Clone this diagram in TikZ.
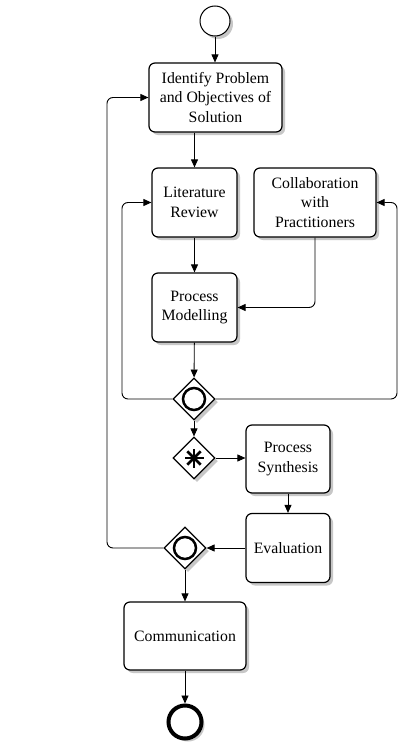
\documentclass[tikz,border=0pt]{standalone}
\usepackage{fontspec}
\setmainfont{Liberation Serif}
\usetikzlibrary{arrows.meta,shapes.geometric,shadows}
\begin{document}
\begin{tikzpicture}[x=1pt,y=-1pt,
 boxshadow/.style={drop shadow={shadow xshift=3pt,shadow yshift=-3pt,fill=black!22,opacity=1}},
 task/.style={draw, line width=1.2pt, rounded corners=6pt, fill=white, align=center,
   font=\fontsize{15.8}{19.5}\selectfont, inner sep=0pt, boxshadow},
 gate/.style={draw, diamond, aspect=1, minimum width=42pt, minimum height=42pt,
   inner sep=0pt, line width=1.2pt, fill=white, boxshadow},
 flow/.style={-{Triangle[length=8pt,width=7pt]}, line width=0.9pt, rounded corners=6pt},
 gmark/.style={line width=2.5pt}
]
\useasboundingbox[fill=white] (0,0) rectangle (399,744);

\node[circle, draw, line width=1pt, minimum size=30pt, inner sep=0pt, fill=white, boxshadow] (start) at (215,21) {};
\node[task, minimum width=133pt, minimum height=69pt] (ident) at (215.5,97.5) {Identify Problem\\and Objectives of\\Solution};
\node[task, minimum width=85pt, minimum height=69pt] (lit) at (194.5,202.5) {Literature\\Review};
\node[task, minimum width=122pt, minimum height=69pt] (collab) at (315,202.5) {Collaboration\\with\\Practitioners};
\node[task, minimum width=85pt, minimum height=69pt] (pm) at (194.5,307.5) {Process\\Modelling};
\node[gate] (g1) at (194,399) {};
\node[gate] (g2) at (194,458) {};
\node[task, minimum width=84pt, minimum height=68pt] (ps) at (288,459) {Process\\Synthesis};
\node[task, minimum width=84pt, minimum height=69pt] (ev) at (288,548) {Evaluation};
\node[gate] (g3) at (185,548) {};
\node[task, minimum width=122pt, minimum height=68pt] (comm) at (185,636) {Communication};
\node[circle, draw, line width=4pt, minimum size=33pt, inner sep=0pt, fill=white, boxshadow] (end) at (185,722) {};

\draw[gmark] (g1.center) circle (11);
\draw[gmark] (g3.center) circle (11);
\foreach \a in {0,45,90,135}
  \draw[gmark] ([shift={(\a:9.5)}]g2.center) -- ([shift={(\a+180:9.5)}]g2.center);

\coordinate (lx) at (122,0);
\coordinate (rx) at (397,0);
\coordinate (llx) at (107,0);

\draw[flow] (start.south) -- (start.south |- ident.north);
\draw[flow] (ident.south -| lit.north) -- (lit.north);
\draw[flow] (lit) -- (pm);
\draw[flow] (collab.south) |- (pm.east);
\draw[flow] (pm) -- (g1);
\draw[flow] (g1.west) -| (lx |- lit.west) -- (lit.west);
\draw[flow] (g1.east) -| (rx |- collab.east) -- (collab.east);
\draw[flow] (g1) -- (g2);
\draw[flow] (g2.east) -- (g2.east -| ps.west);
\draw[flow] (ps) -- (ev);
\draw[flow] (ev.west) -- (g3.east);
\draw[flow] (g3.west) -| (llx |- ident.west) -- (ident.west);
\draw[flow] (g3) -- (comm);
\draw[flow] (comm) -- (end);
\end{tikzpicture}
\end{document}
